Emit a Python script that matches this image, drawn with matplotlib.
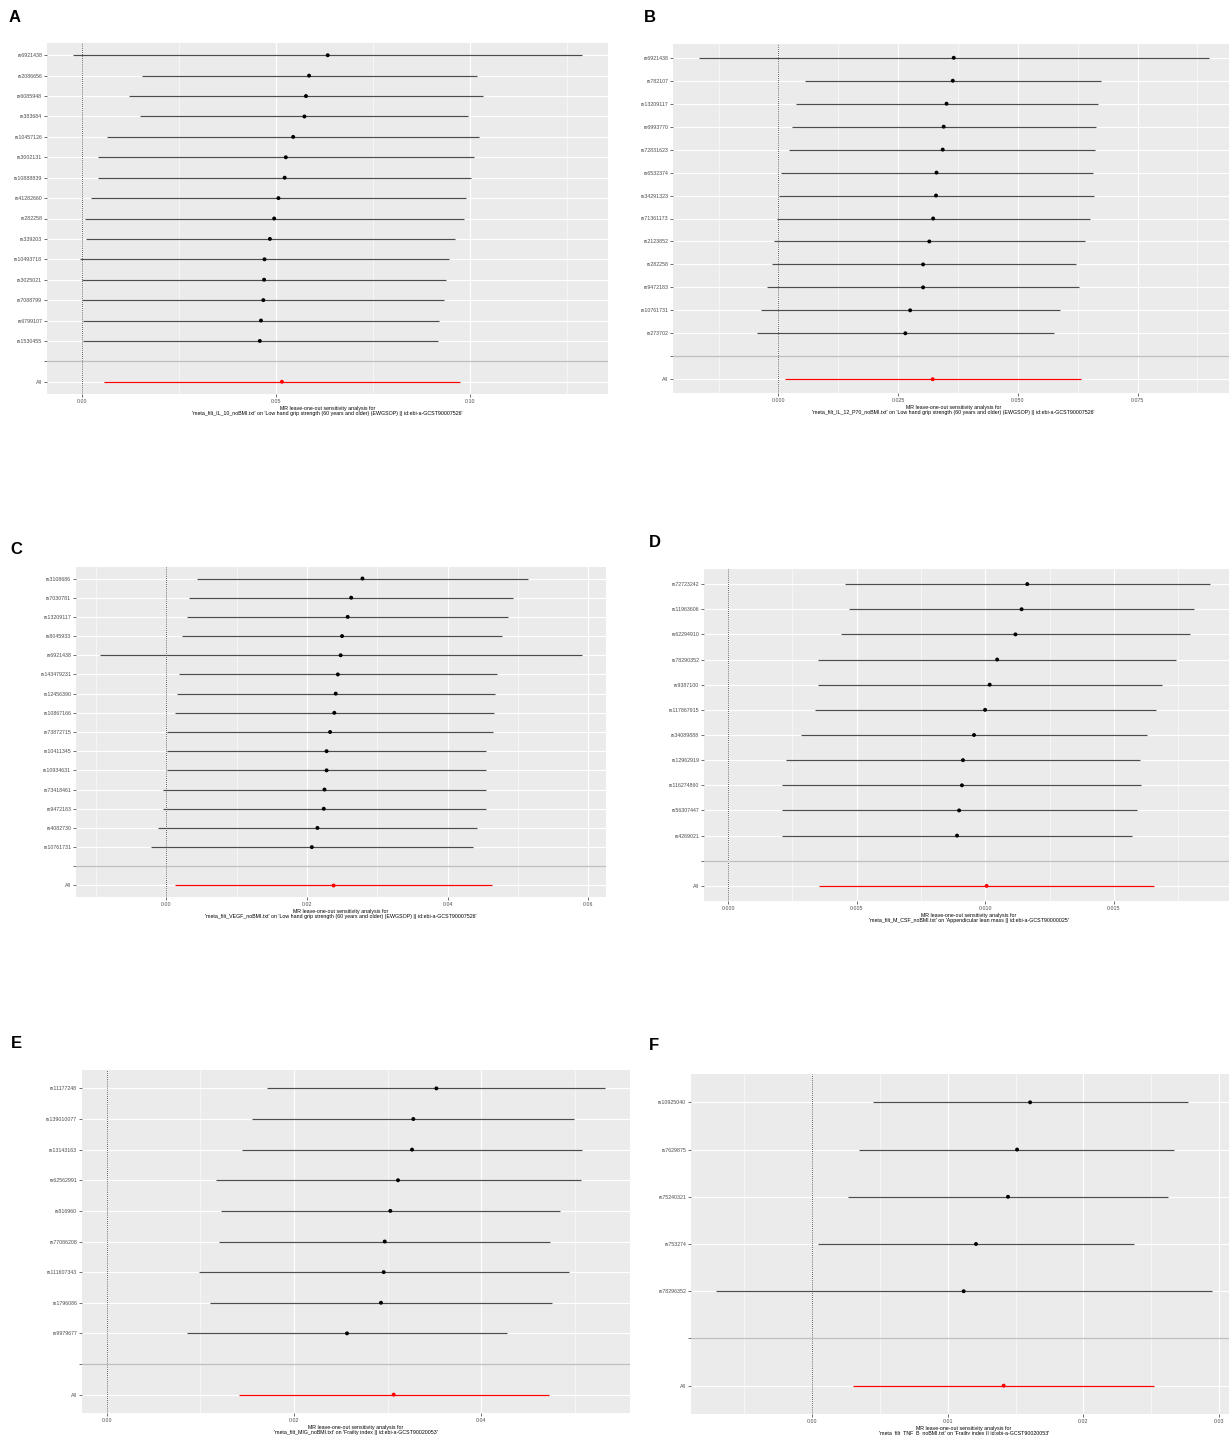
import numpy as np
import matplotlib.pyplot as plt
from matplotlib.ticker import MultipleLocator, FormatStrFormatter

plt.rcParams['font.family'] = ['Liberation Sans', 'DejaVu Sans']

# A: IL-10 -> low hand grip strength
snp_a = ['rs6921438', 'rs2086656', 'rs6085948', 'rs383684', 'rs10457126', 'rs3002131',
         'rs10888839', 'rs41282660', 'rs282258', 'rs339203', 'rs10493718', 'rs3025021',
         'rs7088799', 'rs6799107', 'rs1530455', 'All']
b_a = [0.0634, 0.0586, 0.0578, 0.0574, 0.0545, 0.0526, 0.0523, 0.0507, 0.0496, 0.0485,
       0.0471, 0.0470, 0.0468, 0.0462, 0.0459, 0.0516]
lo_a = [-0.0024, 0.0154, 0.0122, 0.0151, 0.0065, 0.0043, 0.0041, 0.0023, 0.0008, 0.0010,
        -0.0005, 0.0000, 0.0001, 0.0002, 0.0002, 0.0057]
up_a = [0.1291, 0.1019, 0.1034, 0.0997, 0.1025, 0.1010, 0.1004, 0.0991, 0.0985, 0.0961,
        0.0947, 0.0940, 0.0935, 0.0922, 0.0918, 0.0974]

# B: IL-12 p70 -> low hand grip strength
snp_b = ['rs6921438', 'rs782107', 'rs13209117', 'rs6993770', 'rs72831623', 'rs6532374',
         'rs34291323', 'rs71361173', 'rs2123852', 'rs282258', 'rs9472183', 'rs10761731',
         'rs273702', 'All']
b_b = [0.0366, 0.0364, 0.0351, 0.0345, 0.0343, 0.0330, 0.0329, 0.0323, 0.0315, 0.0302,
       0.0302, 0.0275, 0.0265, 0.0322]
lo_b = [-0.0167, 0.0055, 0.0036, 0.0029, 0.0023, 0.0005, 0.0002, -0.0003, -0.0009, -0.0014,
        -0.0023, -0.0036, -0.0045, 0.0013]
up_b = [0.0898, 0.0673, 0.0667, 0.0664, 0.0662, 0.0656, 0.0658, 0.0650, 0.0640, 0.0621,
        0.0627, 0.0587, 0.0575, 0.0631]

# C: VEGF -> low hand grip strength
snp_c = ['rs3108686', 'rs7030781', 'rs13209117', 'rs8045933', 'rs6921438', 'rs143479231',
         'rs12456390', 'rs10867166', 'rs73872715', 'rs10411345', 'rs10934631', 'rs73418461',
         'rs9472183', 'rs4082730', 'rs10761731', 'All']
b_c = [0.0279, 0.0263, 0.0258, 0.0250, 0.0248, 0.0244, 0.0241, 0.0239, 0.0233, 0.0228,
       0.0228, 0.0225, 0.0224, 0.0215, 0.0207, 0.0238]
lo_c = [0.0044, 0.0033, 0.0029, 0.0023, -0.0094, 0.0018, 0.0015, 0.0012, 0.0001, 0.0001,
        0.0001, -0.0004, -0.0005, -0.0012, -0.0021, 0.0013]
up_c = [0.0514, 0.0493, 0.0486, 0.0478, 0.0591, 0.0470, 0.0468, 0.0466, 0.0464, 0.0454,
        0.0455, 0.0454, 0.0454, 0.0442, 0.0436, 0.0463]

# D: M-CSF -> appendicular lean mass
snp_d = ['rs72723242', 'rs11963606', 'rs62294910', 'rs78290352', 'rs9387100', 'rs117867915',
         'rs34089888', 'rs12962919', 'rs116274860', 'rs56307447', 'rs4269021', 'All']
b_d = [0.01163, 0.01141, 0.01117, 0.01046, 0.01017, 0.00999, 0.00956, 0.00913, 0.00909,
       0.00898, 0.00890, 0.01005]
lo_d = [0.00454, 0.00470, 0.00440, 0.00348, 0.00351, 0.00337, 0.00285, 0.00224, 0.00210,
        0.00210, 0.00210, 0.00354]
up_d = [0.01873, 0.01810, 0.01796, 0.01743, 0.01686, 0.01662, 0.01628, 0.01601, 0.01607,
        0.01588, 0.01571, 0.01655]

# E: MIG -> frailty index
snp_e = ['rs11177248', 'rs139010077', 'rs13143163', 'rs62562991', 'rs816960', 'rs77086208',
         'rs111607343', 'rs1796086', 'rs9979677', 'All']
b_e = [0.03522, 0.03276, 0.03262, 0.03112, 0.03030, 0.02970, 0.02959, 0.02930, 0.02567, 0.03066]
lo_e = [0.01715, 0.01554, 0.01447, 0.01163, 0.01216, 0.01194, 0.00984, 0.01102, 0.00856, 0.01412]
up_e = [0.05326, 0.04995, 0.05077, 0.05070, 0.04848, 0.04741, 0.04938, 0.04756, 0.04275, 0.04724]

# F: TNF-B -> frailty index
snp_f = ['rs10925040', 'rs7629875', 'rs75240321', 'rs753274', 'rs78296352', 'All']
b_f = [0.01607, 0.01511, 0.01444, 0.01208, 0.01117, 0.01412]
lo_f = [0.00446, 0.00347, 0.00266, 0.00044, -0.00711, 0.00298]
up_f = [0.02768, 0.02672, 0.02625, 0.02372, 0.02950, 0.02524]

W, H = 1229, 1435
fig = plt.figure(figsize=(W / 100, H / 100), dpi=100)


def forest(box, snps, b, lo, up, step, fmt, exposure, outcome):
    left, top, right, bottom = box
    ax = fig.add_axes([left / W, 1 - bottom / H, (right - left) / W, (bottom - top) / H])
    n = len(snps) - 1
    y = list(np.arange(n + 2, 2, -1)) + [1]
    cols = ['#4d4d4d'] * n + ['red']
    dots = ['black'] * n + ['red']

    ax.set_facecolor('#EBEBEB')
    for s in ax.spines.values():
        s.set_visible(False)
    ax.axvline(0, color='#222222', ls=(0, (1, 1.5)), lw=0.6, zorder=2)
    for yi, l, u, c in zip(y, lo, up, cols):
        ax.plot([l, u], [yi, yi], color=c, lw=0.85, solid_capstyle='butt', zorder=3)
    ax.scatter(b, y, c=dots, s=8, zorder=4, linewidths=0)
    ax.axhline(2, color='#BEBEBE', lw=0.9, zorder=2)

    xmin = min(min(lo), 0)
    xmax = max(max(up), 0)
    pad = 0.05 * (xmax - xmin)
    ax.set_xlim(xmin - pad, xmax + pad)
    ax.set_ylim(0.4, n + 2.6)
    ax.set_yticks(y[:n] + [2, 1])
    ax.set_yticklabels(snps[:n] + ['', 'All'])
    ax.xaxis.set_major_locator(MultipleLocator(step))
    ax.xaxis.set_minor_locator(MultipleLocator(step / 2))
    ax.xaxis.set_major_formatter(FormatStrFormatter(fmt))

    ax.set_axisbelow(True)
    ax.grid(which='major', color='white', lw=0.8)
    ax.grid(which='minor', axis='x', color='white', lw=0.4)
    ax.tick_params(which='major', labelsize=3.8, labelcolor='#4D4D4D', color='#333333',
                   length=2, width=0.5, pad=1.5)
    ax.tick_params(which='minor', length=0)
    ax.set_xlabel("MR leave-one-out sensitivity analysis for\n'" + exposure + "' on '" + outcome + "'",
                  fontsize=3.8, labelpad=1.5, linespacing=1.1)
    return ax


grip = 'Low hand grip strength (60 years and older) (EWGSOP) || id:ebi-a-GCST90007526'
frail = 'Frailty index || id:ebi-a-GCST90020053'

forest((47, 43, 608, 394), snp_a, b_a, lo_a, up_a, 0.05, '%.2f', 'meta_filt_IL_10_noBMI.txt', grip)
forest((673, 44, 1234, 393), snp_b, b_b, lo_b, up_b, 0.025, '%.3f', 'meta_filt_IL_12_P70_noBMI.txt', grip)
forest((76, 567, 606, 897), snp_c, b_c, lo_c, up_c, 0.02, '%.2f', 'meta_filt_VEGF_noBMI.txt', grip)
forest((704, 569, 1234, 901), snp_d, b_d, lo_d, up_d, 0.005, '%.3f', 'meta_filt_M_CSF_noBMI.txt',
       'Appendicular lean mass || id:ebi-a-GCST90000025')
forest((82, 1070, 630, 1413), snp_e, b_e, lo_e, up_e, 0.02, '%.2f', 'meta_filt_MIG_noBMI.txt', frail)
forest((691, 1074, 1237, 1414), snp_f, b_f, lo_f, up_f, 0.01, '%.2f', 'meta_filt_TNF_B_noBMI.txt', frail)

for lab, px, py in [('A', 15, 18), ('B', 650, 18), ('C', 16, 549),
                    ('D', 655, 543), ('E', 16, 1043), ('F', 654, 1045)]:
    fig.text(px / W, 1 - py / H, lab, fontsize=12, fontweight='bold', ha='center', va='center')

fig.savefig('out.png', dpi=100, facecolor='white')
